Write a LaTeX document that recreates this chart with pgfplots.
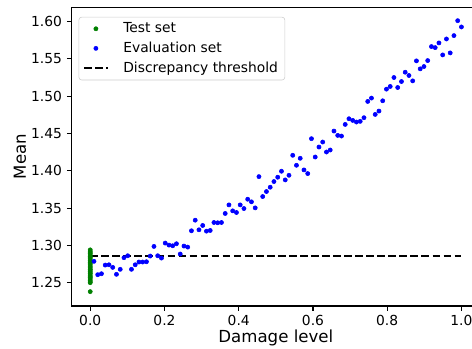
\documentclass[border=0pt]{standalone}
\usepackage{fontspec}
\setmainfont{DejaVu Sans}
\usepackage{pgfplots}
\pgfplotsset{compat=1.18}
\definecolor{mplgreen}{rgb}{0,0.5,0}
\definecolor{mplblue}{rgb}{0,0,1}
\begin{document}
\begin{tikzpicture}
\path[use as bounding box] (-51.6bp,-31.0bp) rectangle (288.24bp,220.28bp);
\clip (-51.6bp,-31.0bp) rectangle (288.24bp,220.28bp);
\begin{axis}[
  at={(0,0)}, anchor=south west,
  scale only axis, width=294bp, height=215bp,
  xmin=-0.05, xmax=1.05, ymin=1.2188, ymax=1.6192,
  axis line style={line width=0.8bp},
  every tick/.style={line width=0.8bp, black},
  tick align=outside, xtick pos=bottom, ytick pos=left,
  major tick length=3.5bp,
  xtick={0,0.2,0.4,0.6,0.8,1.0},
  ytick={1.25,1.30,1.35,1.40,1.45,1.50,1.55,1.60},
  /pgf/number format/assume math mode=true,
  xticklabel style={/pgf/number format/.cd, fixed, fixed zerofill, precision=1},
  yticklabel style={/pgf/number format/.cd, fixed, fixed zerofill, precision=2},
  ticklabel style={font=\fontsize{10}{12}\selectfont},
  scaled ticks=false,
  xlabel={Damage level}, ylabel={Mean},
  label style={font=\fontsize{12}{14}\selectfont},
  xlabel style={at={(axis description cs:0.5,-0.124)}, anchor=base},
  ylabel style={at={(axis description cs:-0.1266,0.5)}, anchor=center},
  legend cell align=left,
  legend style={at={(0.017,0.968)}, anchor=north west, draw=black!20, rounded corners=2bp,
    fill=white, font=\fontsize{10}{12}\selectfont, row sep=1.2bp, inner xsep=3bp,
    /tikz/every odd column/.append style={column sep=8.5bp}},
]
\addplot[only marks, mark=*, mark size=1.5bp, color=mplgreen] coordinates {
(0,1.294) (0,1.292) (0,1.290) (0,1.289) (0,1.287) (0,1.285) (0,1.284) (0,1.282)
(0,1.280) (0,1.279) (0,1.277) (0,1.276) (0,1.274) (0,1.272) (0,1.270) (0,1.268)
(0,1.267) (0,1.265) (0,1.263) (0,1.262) (0,1.260) (0,1.258) (0,1.257) (0,1.255)
(0,1.253) (0,1.251) (0,1.250) (0,1.238)
};
\addlegendentry{Test set}
\addplot[only marks, mark=*, mark size=1.5bp, color=mplblue] coordinates {
(0.0101,1.2786) (0.0202,1.2607) (0.0303,1.2620) (0.0404,1.2736) (0.0505,1.2740)
(0.0606,1.2705) (0.0707,1.2612) (0.0808,1.2679) (0.0909,1.2835) (0.1010,1.2861)
(0.1111,1.2679) (0.1212,1.2740) (0.1313,1.2777) (0.1414,1.2777) (0.1515,1.2781)
(0.1616,1.2857) (0.1717,1.2986) (0.1818,1.2861) (0.1919,1.2830) (0.2020,1.3031)
(0.2121,1.3004) (0.2222,1.2995) (0.2323,1.3022) (0.2424,1.2884) (0.2525,1.2991)
(0.2626,1.2977) (0.2727,1.3196) (0.2828,1.3338) (0.2929,1.3209) (0.3030,1.3267)
(0.3131,1.3191) (0.3232,1.3200) (0.3333,1.3307) (0.3434,1.3303) (0.3535,1.3307)
(0.3636,1.3428) (0.3737,1.3543) (0.3838,1.3463) (0.3939,1.3441) (0.4040,1.3543)
(0.4141,1.3494) (0.4242,1.3619) (0.4343,1.3584) (0.4444,1.3503) (0.4545,1.3922)
(0.4646,1.3655) (0.4747,1.3722) (0.4848,1.3780) (0.4949,1.3856) (0.5051,1.3914)
(0.5152,1.3994) (0.5253,1.3878) (0.5354,1.3940) (0.5455,1.4208) (0.5556,1.4074)
(0.5657,1.4168) (0.5758,1.4012) (0.5859,1.3963) (0.5960,1.4431) (0.6061,1.4185)
(0.6162,1.4319) (0.6263,1.4386) (0.6364,1.4252) (0.6465,1.4279) (0.6566,1.4533)
(0.6667,1.4475) (0.6768,1.4466) (0.6869,1.4622) (0.6970,1.4698) (0.7071,1.4676)
(0.7172,1.4654) (0.7273,1.4663) (0.7374,1.4712) (0.7475,1.4930) (0.7576,1.4975)
(0.7677,1.4756) (0.7778,1.4801) (0.7879,1.4939) (0.7980,1.5095) (0.8081,1.5131)
(0.8182,1.5251) (0.8283,1.5117) (0.8384,1.5197) (0.8485,1.5322) (0.8586,1.5278)
(0.8687,1.5206) (0.8788,1.5474) (0.8889,1.5367) (0.8990,1.5398) (0.9091,1.5478)
(0.9192,1.5666) (0.9293,1.5652) (0.9394,1.5715) (0.9495,1.5554) (0.9596,1.5768)
(0.9697,1.5581) (0.9798,1.5813) (0.9899,1.6013) (1.0000,1.5929)
};
\addlegendentry{Evaluation set}
\addplot[black, line width=1.5bp, dash pattern=on 5.55bp off 2.4bp] coordinates {(0,1.2861) (1,1.2861)};
\addlegendentry{Discrepancy threshold}
\end{axis}
\end{tikzpicture}
\end{document}
